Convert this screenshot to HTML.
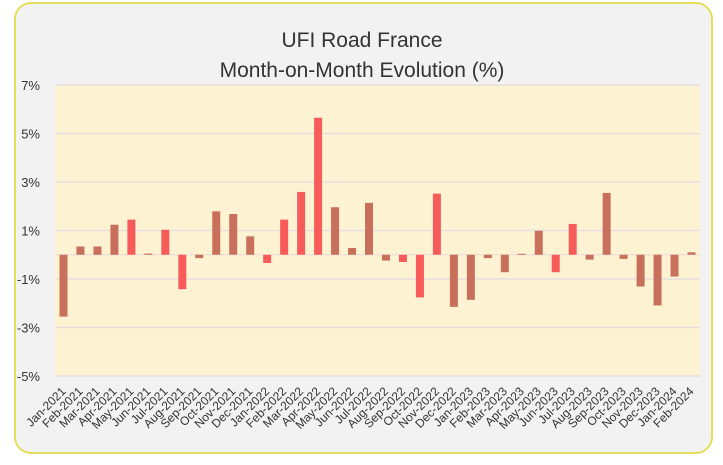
<!DOCTYPE html>
<html><head><meta charset="utf-8"><style>
html,body{margin:0;padding:0;background:#fff;}
svg{display:block;font-family:"Liberation Sans",sans-serif;}
</style></head><body>
<svg id="chart" width="723" height="465">
<rect x="15" y="3" width="697" height="450" rx="16" fill="#f3f2f2" stroke="#e3df5a" stroke-width="2"/>
<text x="362" y="47" text-anchor="middle" font-size="21" fill="#333">UFI Road France</text>
<text x="362" y="77" text-anchor="middle" font-size="21" fill="#333">Month-on-Month Evolution (%)</text>
<rect x="55" y="85" width="645" height="291" fill="#fdf3d2"/>
<g id="grid"></g><g id="bars"></g><g id="xlabels"></g>
</svg>
<script>
const categories=["Jan-2021","Feb-2021","Mar-2021","Apr-2021","May-2021","Jun-2021","Jul-2021","Aug-2021","Sep-2021","Oct-2021","Nov-2021","Dec-2021","Jan-2022","Feb-2022","Mar-2022","Apr-2022","May-2022","Jun-2022","Jul-2022","Aug-2022","Sep-2022","Oct-2022","Nov-2022","Dec-2022","Jan-2023","Feb-2023","Mar-2023","Apr-2023","May-2023","Jun-2023","Jul-2023","Aug-2023","Sep-2023","Oct-2023","Nov-2023","Dec-2023","Jan-2024","Feb-2024"];
const values=[-2.55,0.34,0.34,1.24,1.45,0.05,1.03,-1.42,-0.14,1.79,1.68,0.76,-0.34,1.45,2.59,5.65,1.96,0.28,2.14,-0.24,-0.3,-1.76,2.52,-2.15,-1.86,-0.14,-0.72,0.04,0.99,-0.72,1.27,-0.2,2.55,-0.17,-1.31,-2.09,-0.9,0.1];
const colorKeys=["b","b","b","b","r","b","r","r","b","b","b","b","r","r","r","r","b","b","b","b","r","r","r","b","b","b","b","b","b","r","r","b","b","b","b","b","b","b"];
const yTicks=[7,5,3,1,-1,-3,-5];
const yTickLabels=["7%","5%","3%","1%","-1%","-3%","-5%"];
const NS="http://www.w3.org/2000/svg";
const x0=55,x1=700,yTop=85,yBot=376,vMax=7,vMin=-5;
const band=(x1-x0)/categories.length;
function xc(i){return x0+band*(i+0.5);}
function y(v){return yTop+(vMax-v)/(vMax-vMin)*(yBot-yTop);}
const grid=document.getElementById('grid');
yTicks.forEach((t,i)=>{
 const l=document.createElementNS(NS,'line');
 l.setAttribute('x1',x0);l.setAttribute('x2',x1);l.setAttribute('y1',y(t));l.setAttribute('y2',y(t));
 l.setAttribute('stroke','#e6dede');l.setAttribute('stroke-width','1.5');
 
 
 grid.appendChild(l);
 const tx=document.createElementNS(NS,'text');
 tx.setAttribute('x',40);tx.setAttribute('y',y(t)+5);tx.setAttribute('text-anchor','end');
 tx.setAttribute('font-size','13');tx.setAttribute('fill','#333');tx.textContent=yTickLabels[i];
 
 
 grid.appendChild(tx);
});
const zl=document.createElementNS(NS,'line');
zl.setAttribute('x1',x0);zl.setAttribute('x2',x1);zl.setAttribute('y1',y(0));zl.setAttribute('y2',y(0));
zl.setAttribute('stroke','#e8d8d8');zl.setAttribute('stroke-width','1');


grid.appendChild(zl);
const bars=document.getElementById('bars');
const xl=document.getElementById('xlabels');
values.forEach((v,i)=>{
 const r=document.createElementNS(NS,'rect');
 const bw=8;
 r.setAttribute('x',xc(i)-bw/2);r.setAttribute('width',bw);
 r.setAttribute('y',Math.min(y(v),y(0)));r.setAttribute('height',Math.max(1,Math.abs(y(v)-y(0))));
 r.setAttribute('fill',colorKeys[i]==='r'?'#f75c5a':'#c8705c');
 
 
 bars.appendChild(r);
 const t=document.createElementNS(NS,'text');
 const cx=xc(i)+3,cy=392;
 t.setAttribute('x',cx);t.setAttribute('y',cy);t.setAttribute('text-anchor','end');
 t.setAttribute('font-size','12');t.setAttribute('fill','#333');
 t.setAttribute('transform','rotate(-45 '+cx+' '+cy+')');
 t.textContent=categories[i];
 
 
 xl.appendChild(t);
});
</script>
</body></html>
